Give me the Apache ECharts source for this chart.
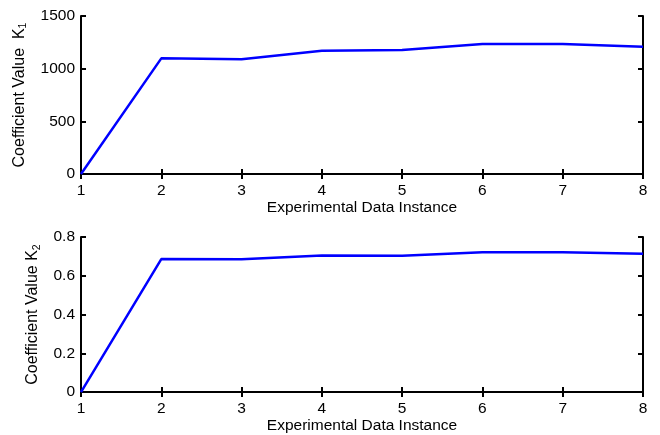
<!DOCTYPE html>
<html><head><meta charset="utf-8">
<script src="https://cdn.jsdelivr.net/npm/echarts@6/dist/echarts.min.js"></script>
<style>html,body{margin:0;padding:0;background:#fff}#c{width:660px;height:435px}</style>
</head><body><div id="c"></div>
<script>
const instances = [1, 2, 3, 4, 5, 6, 7, 8];
const k1Values = [0, 1098, 1090, 1170, 1177, 1234, 1234, 1208];
const k2Values = [0, 0.686, 0.685, 0.704, 0.703, 0.721, 0.721, 0.713];
const xTicks = [1, 2, 3, 4, 5, 6, 7, 8];
const k1Ticks = [0, 500, 1000, 1500];
const k2Ticks = [0, 0.2, 0.4, 0.6, 0.8];

const font = 'Liberation Sans, Arial, sans-serif';
const axisLine = {show: true, lineStyle: {color: '#000', width: 2}};
const tick = {show: true, inside: true, length: 5, lineStyle: {color: '#000', width: 2}};
const lbl = {color: '#000', fontSize: 15.5, fontFamily: font};

function xAxes(gi, gap) {
  return [
    {gridIndex: gi, type: 'value', min: 1, max: 8, interval: 1, position: 'bottom',
     axisLine, axisTick: tick, splitLine: {show: false},
     axisLabel: Object.assign({margin: 9}, lbl),
     name: 'Experimental Data Instance', nameLocation: 'middle', nameGap: gap,
     nameTextStyle: {color: '#000', fontSize: 15.5, fontFamily: font}},
    {gridIndex: gi, type: 'value', min: 1, max: 8, interval: 1, position: 'top',
     axisLine, axisTick: tick, splitLine: {show: false}, axisLabel: {show: false}}
  ];
}
function yAxes(gi, max, interval, sub, gap, fmt) {
  return [
    {gridIndex: gi, type: 'value', min: 0, max: max, interval: interval, position: 'left',
     axisLine, axisTick: tick, splitLine: {show: false},
     axisLabel: Object.assign({margin: 6, formatter: fmt}, lbl),
     name: sub, nameLocation: 'middle', nameGap: gap, nameRotate: 90,
     nameTextStyle: {color: '#000', fontFamily: font,
       rich: {a: {fontSize: 16, fontFamily: font, color: '#000', lineHeight: 19},
              s: {fontSize: 10.5, fontFamily: font, color: '#000', verticalAlign: 'bottom', lineHeight: 19, padding: [8, 0, 0, 0]}}}},
    {gridIndex: gi, type: 'value', min: 0, max: max, interval: interval, position: 'right',
     axisLine, axisTick: tick, splitLine: {show: false}, axisLabel: {show: false}}
  ];
}

const chart = echarts.init(document.getElementById('c'), null, {renderer: 'canvas'});
chart.setOption({
  backgroundColor: '#fff',
  animation: false,
  grid: [
    {left: 81, top: 16, width: 562, height: 158},
    {left: 81, top: 237, width: 562, height: 159}
  ],
  xAxis: [...xAxes(0, 26), ...xAxes(1, 18)],
  yAxis: [
    ...yAxes(0, 1500, 500, '{a|Coefficient Value  K}{s|1}', 52, v => String(v)),
    ...yAxes(1, 0.8, 0.2, '{a|Coefficient Value K}{s|2}', 38, v => v === 0 ? '0' : v.toFixed(1))
  ],
  series: [
    {type: 'line', xAxisIndex: 0, yAxisIndex: 0, showSymbol: false,
     lineStyle: {color: '#0000ff', width: 2.5},
     data: instances.map((x, i) => [x, k1Values[i]])},
    {type: 'line', xAxisIndex: 2, yAxisIndex: 2, showSymbol: false,
     lineStyle: {color: '#0000ff', width: 2.5},
     data: instances.map((x, i) => [x, k2Values[i]])}
  ]
});
</script></body></html>
